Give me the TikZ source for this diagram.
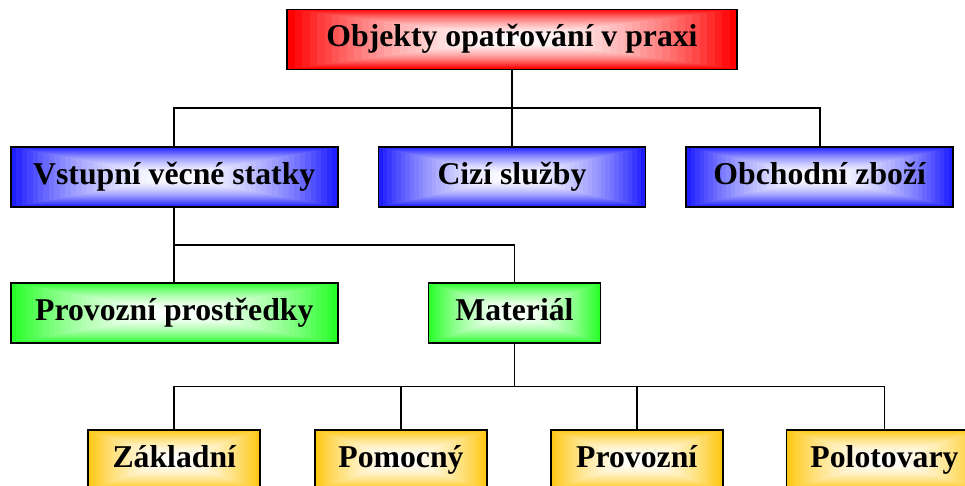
\documentclass[tikz,border=0pt]{standalone}
\usepackage{fontspec}
\setmainfont{Liberation Serif}
\usetikzlibrary{positioning, calc}

\definecolor{boxred}{RGB}{255,0,0}
\definecolor{boxblue}{RGB}{30,30,255}
\definecolor{boxgreen}{RGB}{40,255,40}
\definecolor{boxyellow}{RGB}{255,200,20}

\begin{document}
\begin{tikzpicture}[line width=1.3pt,
	box/.style={draw, line width=1.3pt, minimum height=45pt, inner sep=2pt,
		text height=16pt, text depth=5pt,
		font=\bfseries\fontsize{23.8}{28}\selectfont,
		path picture={
			% white centre fading out to the colour at the border
			\foreach \k in {0,...,29}{
				\pgfmathsetmacro{\f}{1-\k/30}
				\pgfmathsetmacro{\m}{100*\f^1.8}
				\fill[#1!\m!white] ($(path picture bounding box.center)!\f!(path picture bounding box.south west)$) rectangle ($(path picture bounding box.center)!\f!(path picture bounding box.north east)$);
			}}},
	tree/.style={to path={(\tikztostart) |- ($(\tikztostart)!0.5!(\tikztotarget)$) -| (\tikztotarget)}}]
	\useasboundingbox (0,0) rectangle (723.75pt,-364.5pt);
		\node[box=boxred, minimum width=337.5pt						] (TOP) 		at (384pt,-29.6pt) {Objekty opatřování v praxi};
		\node[box=boxblue, minimum width=200.25pt, below=57pt of TOP		] (CIZI) 		{Cizí služby};
		\node[box=boxblue, minimum width=245.25pt, left=29.25pt of CIZI		] (VSTUPNI) 	{Vstupní věcné statky};
		\node[box=boxblue, minimum width=200.25pt, right=29.25pt of CIZI	] (OBCHODNI) 	{Obchodní zboží};

		\node[box=boxgreen, minimum width=245.25pt, below=55.5pt of VSTUPNI		] (PROSTREDKY) 	{Provozní prostředky};
		\node[box=boxgreen, minimum width=129pt, right=66.75pt of PROSTREDKY	] (MATERIAL) 	{Materiál};

		\node[box=boxyellow, minimum width=129pt, below=64pt of PROSTREDKY		] (ZAKLADNI) 	{Základní};
		\node[box=boxyellow, minimum width=129pt, right=39.75pt of ZAKLADNI		] (POMOCNY) 	{Pomocný};
		\node[box=boxyellow, minimum width=129pt, right=46.5pt of POMOCNY		] (PROVOZNI) 	{Provozní};
		\node[box=boxyellow, minimum width=147pt, right=46.5pt of PROVOZNI		] (POLOTOVARY) 	{Polotovary};

		\draw	(TOP.south)			edge[tree]	(VSTUPNI.north)
				(TOP.south)			edge[tree]	(CIZI.north)
				(TOP.south)			edge[tree]	(OBCHODNI.north)

				(VSTUPNI.south)		edge[tree]	(PROSTREDKY.north)
				(VSTUPNI.south)		edge[tree]	(MATERIAL.north)

				(MATERIAL.south)	edge[tree]	(ZAKLADNI.north)
				(MATERIAL.south)	edge[tree]	(POMOCNY.north)
				(MATERIAL.south)	edge[tree]	(PROVOZNI.north)
				(MATERIAL.south)	edge[tree]	(POLOTOVARY.north)
				;
	\end{tikzpicture}
\end{document}
